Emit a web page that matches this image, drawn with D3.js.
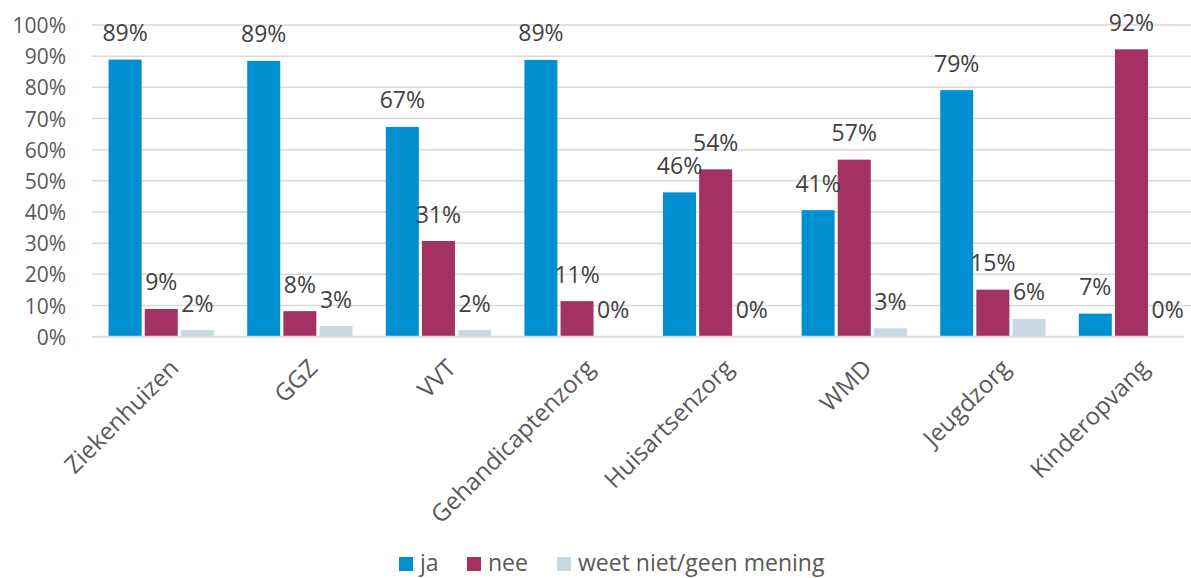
<!DOCTYPE html>
<html><head><meta charset="utf-8">
<script src="https://cdn.jsdelivr.net/npm/d3@7"></script>
<style>body{margin:0;background:#fff}svg{display:block}</style>
</head><body>
<svg id="c" width="1191" height="578"></svg>
<script>
const categories = ["Ziekenhuizen","GGZ","VVT","Gehandicaptenzorg","Huisartsenzorg","WMD","Jeugdzorg","Kinderopvang"];
const seriesNames = ["ja","nee","weet niet/geen mening"];
const ja   = [88.9, 88.5, 67.3, 88.8, 46.3, 40.6, 79.1, 7.4];
const nee  = [8.9, 8.2, 30.7, 11.4, 53.7, 56.8, 15.1, 92.2];
const weet = [2.1, 3.4, 2.1, 0, 0, 2.7, 5.7, 0];
const yTicks = [0,10,20,30,40,50,60,70,80,90,100];
const colors = ["#008fd0","#a33263","#c8d9e3"];

const series = [ja, nee, weet];
const svg = d3.select("#c");
const font = "'Open Sans', sans-serif";

const x0 = d3.scaleBand().domain(categories).range([92, 92 + 8*138.6]).paddingInner(0).paddingOuter(0);
const x1 = d3.scaleBand().domain(seriesNames).range([16.6, 121.9]).paddingInner(0.087).paddingOuter(0);
const y = d3.scaleLinear().domain([0,100]).range([336.7, 25]);

// gridlines
svg.append("g").selectAll("line").data(yTicks.filter(d=>d>0)).join("line")
  .attr("x1", 92).attr("x2", 1191)
  .attr("y1", d=>y(d)).attr("y2", d=>y(d))
  .attr("stroke", "#d9d9d9").attr("stroke-width", 1.5);

// y axis labels
const yAxis = d3.axisLeft(y).tickValues(yTicks).tickFormat(d=>d+"%").tickSize(0).tickPadding(0);
const ya = svg.append("g").attr("transform","translate(66,0)").call(yAxis);
ya.select(".domain").remove();
ya.selectAll("text").attr("font-family", font).attr("font-size", 21).attr("fill", "#595959").attr("dy","0.36em");

// bars
const groups = svg.append("g").selectAll("g").data(categories).join("g")
  .attr("transform", d=>`translate(${x0(d)},0)`);
groups.selectAll("rect").data((c,i)=>seriesNames.map((s,j)=>({s, v: series[j][i], j}))).join("rect")
  .attr("x", d=>x1(d.s)).attr("width", x1.bandwidth())
  .attr("y", d=>y(d.v)).attr("height", d=>y(0)-y(d.v))
  .attr("fill", d=>colors[d.j]);
groups.selectAll("text").data((c,i)=>seriesNames.map((s,j)=>({s, v: series[j][i], j}))).join("text")
  .attr("x", d=>x1(d.s)+x1.bandwidth()/2).attr("y", d=>y(d.v)-18.5)
  .attr("text-anchor","middle").attr("font-family", font).attr("font-size", 23).attr("fill", "#404040")
  .text(d=>Math.round(d.v)+"%");

// x axis line
svg.append("line").attr("x1", 92).attr("x2", 1184).attr("y1", y(0)).attr("y2", y(0))
  .attr("stroke", "#d9d9d9").attr("stroke-width", 2);

// category labels
const xAxis = d3.axisBottom(x0).tickSize(0).tickPadding(0);
const xa = svg.append("g").attr("transform", `translate(0,${y(0)})`).call(xAxis);
xa.select(".domain").remove();
xa.selectAll("text")
  .attr("font-family", font).attr("font-size", 24).attr("fill", "#595959")
  .attr("text-anchor","end").attr("dy", "0.35em").attr("y", 0)
  .attr("transform", "translate(13,27) rotate(-45)");

// legend
const legendX = [399, 467, 557];
const lg = svg.append("g").selectAll("g").data(seriesNames).join("g")
  .attr("transform", (d,i)=>`translate(${legendX[i]},557)`);
lg.append("rect").attr("width", 14).attr("height", 14).attr("fill", (d,i)=>colors[i]);
lg.append("text").attr("x", 21).attr("y", 14).attr("font-family", font).attr("font-size", 23)
  .attr("fill", "#595959").text(d=>d);
</script>
</body></html>
